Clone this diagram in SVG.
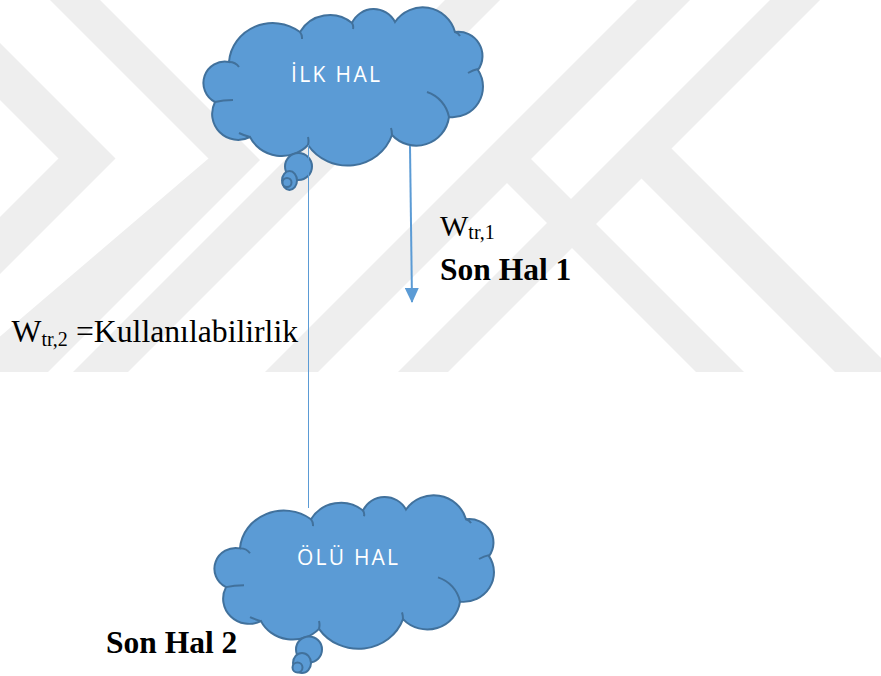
<svg xmlns="http://www.w3.org/2000/svg" width="881" height="676" viewBox="0 0 881 676">
  <defs>
    <style>
      .cloud { fill: #5B9BD5; stroke: #41719C; stroke-width: 2; }
      .crease { fill: none; stroke: #41719C; stroke-width: 2; }
      .label { font-family: "Open Sans", "Noto Sans", sans-serif; font-size: 21px; fill: #FFFFFF; }
      .serif { font-family: "Liberation Serif", "Times New Roman", serif; fill: #000000; }
      .bold { font-weight: bold; font-size: 31.5px; }
      .conn { stroke: #5B9BD5; fill: none; }
      .wm { fill: #EEEEEE; }
    </style>
    <clipPath id="wmclip"><rect x="0" y="0" width="881" height="372"/></clipPath>
    <marker id="arrow" viewBox="0 0 15 14" refX="14" refY="7" markerWidth="15" markerHeight="14" markerUnits="userSpaceOnUse" orient="auto">
      <path d="M0,0 L15,7 L0,14 Z" fill="#5B9BD5"/>
    </marker>
    <path id="cloudShape" d="M12,95 A21.4,21.4 0 0 1 26,55 A44,42 0 0 1 97,25 A34.8,34.8 0 0 1 149,16 A23.9,23.9 0 0 1 192,15 A33.5,33.5 0 0 1 252,25 A24.2,24.2 0 0 1 275,63 A30.5,30.5 0 0 1 246,110 A33,33 0 0 1 189,128 A47,45 0 0 1 105,138 A35.1,33 0 0 1 47,130 A26,26 0 0 1 12,95 Z"/>
    <path id="cloudCreases" d="M26,55 A12,12 0 0 1 36,60 M97,25 A10,10 0 0 1 99,32 M149,16 A8,8 0 0 1 150,22 M252,25 A8,8 0 0 1 257,29 M275,62 Q270,63 265,66 M224,85 A33,33 0 0 1 246,110 M189,128 Q189,124 188,121 M105,138 Q106,134 105,130 M47,130 Q40,128 36,126 M12,95 Q20,93 30,93"/>
  </defs>

  <g id="watermark" clip-path="url(#wmclip)" class="wm">
    <polygon points="50,0 100,0 260,160 -100,520 -153,467 208.5,158.5"/>
    <polygon points="0,43 115.5,158.5 -100,374 -100,317 58.5,158.5 0,100"/>
    <polygon points="445,0 500,0 128,372 73,372"/>
    <polygon points="637,0 690,0 318,372 265,372"/>
    <polygon points="770,0 820,0 448,372 398,372"/>
    <polygon points="517.5,145.5 744,372 696,372 493.5,169.5"/>
    <polygon points="659,136 895,372 835,372 629,166"/>
  </g>

  <g id="node-ilk-hal">
    <g transform="translate(203,7)">
      <use href="#cloudShape" class="cloud"/>
      <use href="#cloudCreases" class="crease"/>
    </g>
    <circle cx="298.5" cy="166.5" r="13.5" class="cloud"/>
    <ellipse cx="289.5" cy="180.5" rx="7.5" ry="9.5" class="cloud"/>
    <circle cx="287" cy="182.5" r="4.5" class="cloud"/>
    <text x="291" y="82" class="label" textLength="89" lengthAdjust="spacing">İLK HAL</text>
  </g>

  <g id="node-olu-hal">
    <g transform="translate(214,495) scale(1,0.97)">
      <use href="#cloudShape" class="cloud"/>
      <use href="#cloudCreases" class="crease"/>
    </g>
    <circle cx="309" cy="649.5" r="13" class="cloud"/>
    <ellipse cx="302" cy="663" rx="9" ry="10" class="cloud"/>
    <circle cx="297.5" cy="667.5" r="5" class="cloud"/>
    <text x="297" y="565" class="label" textLength="101" lengthAdjust="spacing">ÖLÜ HAL</text>
  </g>

  <g id="connectors">
    <line x1="410" y1="146" x2="412" y2="302" class="conn" stroke-width="2" marker-end="url(#arrow)"/>
    <line x1="308.5" y1="145" x2="308.5" y2="508" class="conn" stroke-width="1"/>
  </g>

  <g id="labels">
    <text x="440" y="236" class="serif" font-size="30">W<tspan font-size="20" dy="3">tr,1</tspan></text>
    <text x="440" y="280" class="serif bold">Son Hal 1</text>
    <text x="11.5" y="342" class="serif" font-size="31.7">W<tspan font-size="20" dy="4">tr,2</tspan></text>
    <text x="76" y="342" class="serif" font-size="31.7">=Kullanılabilirlik</text>
    <text x="106" y="653" class="serif bold">Son Hal 2</text>
  </g>
</svg>
